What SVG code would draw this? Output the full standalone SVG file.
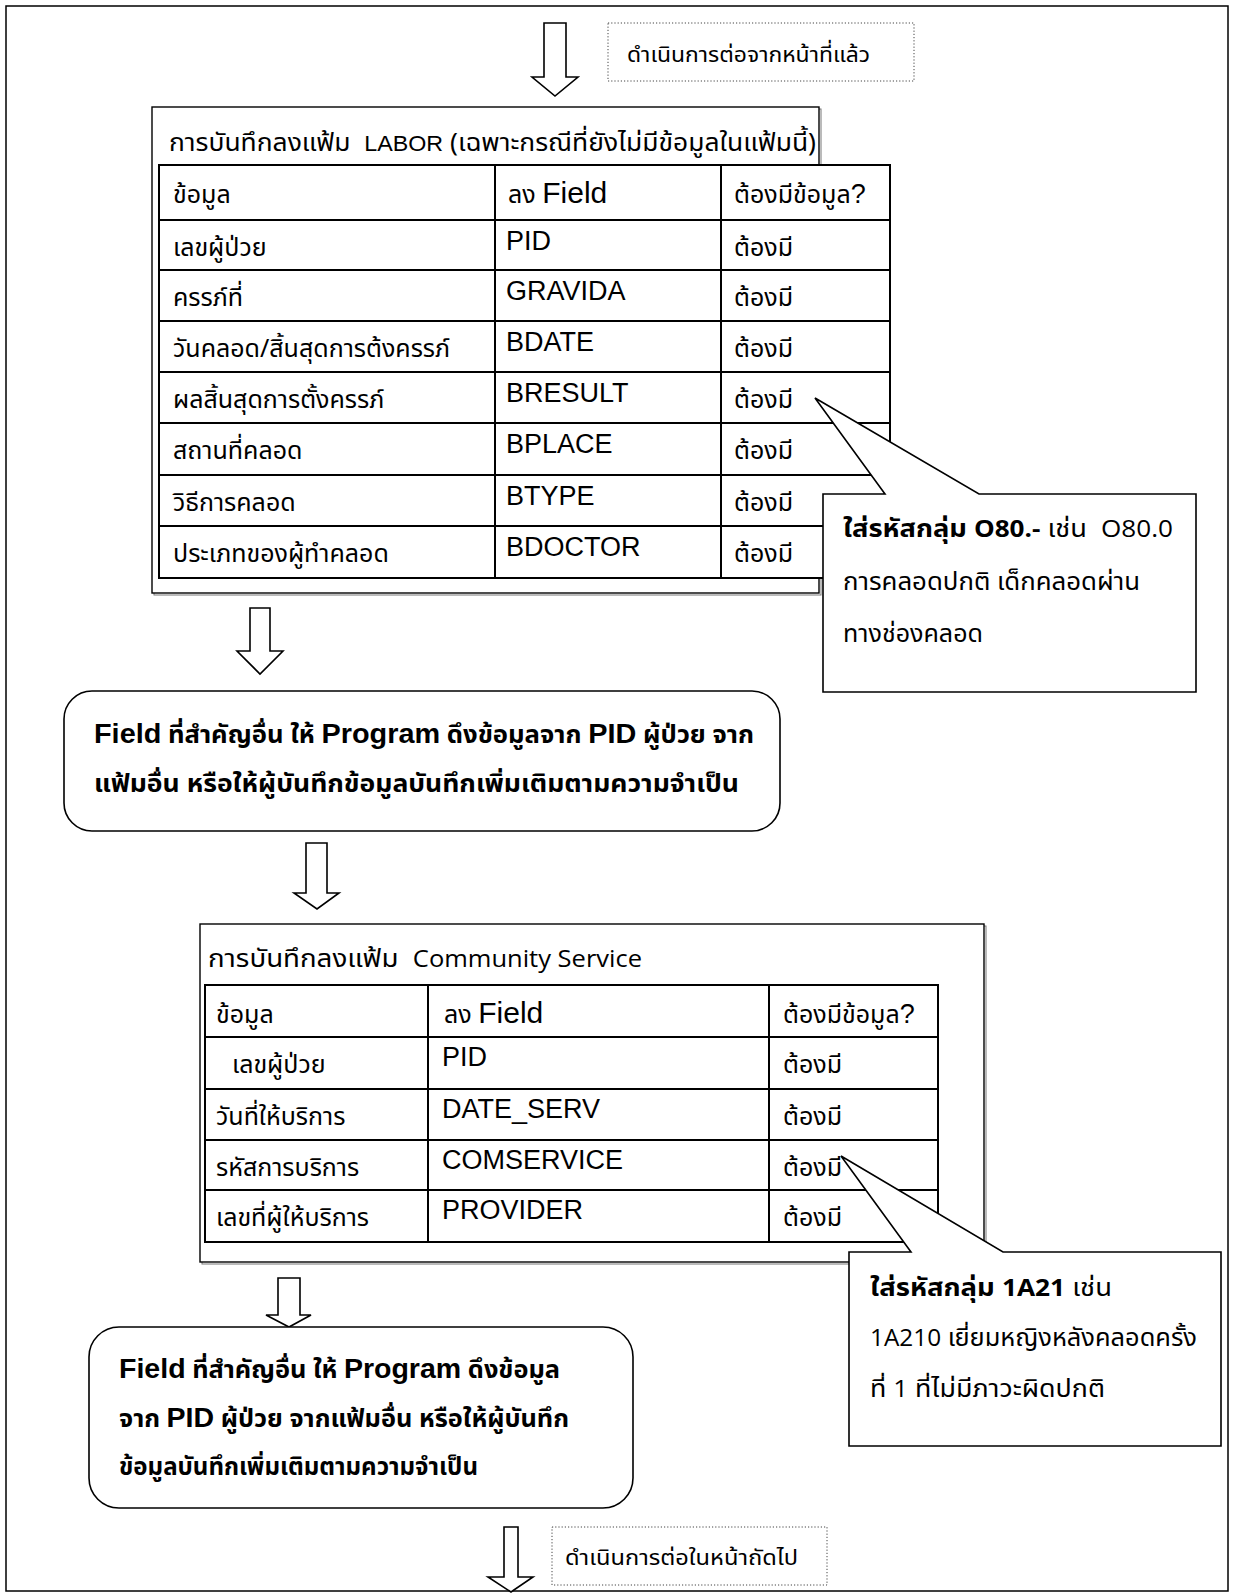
<svg xmlns="http://www.w3.org/2000/svg" width="1234" height="1594" viewBox="0 0 1234 1594">
  <style>
    .page { fill: #fff; stroke: #000; stroke-width: 1.5; }
    .frame { fill: #fff; stroke: #000; stroke-width: 1.4; }
    .shadow { fill: none; stroke: #777; stroke-width: 1; }
    .grid { fill: none; stroke: #000; stroke-width: 2; }
    .grid .tbl { fill: #fff; }
    .note { fill: #fff; stroke: #000; stroke-width: 1.6; }
    .dotted { fill: #fff; stroke: #444; stroke-width: 1; stroke-dasharray: 1.2 2; }
    .arrow { fill: #fff; stroke: #000; stroke-width: 1.6; stroke-linejoin: miter; }
    .round { fill: #fff; stroke: #000; stroke-width: 1.6; }
    .th { font-family: "Noto Sans Thai", "Noto Sans", "DejaVu Sans", sans-serif; fill: #000; }
    .cell { font-size: 25px; }
    .title { font-size: 25px; }
    .code { font-family: "Liberation Sans", Arial, sans-serif; font-size: 27px; fill: #000; }
    .en { font-family: "Liberation Sans", Arial, sans-serif; }
    .lat { font-family: "Open Sans", "Noto Sans", sans-serif; font-size: 23px; }
    .callout { font-size: 24px; }
    .boxtxt { font-size: 24px; font-weight: bold; }
    .boxen { font-family: "Liberation Sans", Arial, sans-serif; font-size: 27px; font-weight: bold; }
    .small { font-size: 22px; }
  </style>

  <!-- page border -->
  <rect class="page" x="6" y="6" width="1222" height="1585"/>

  <!-- block arrows between steps -->
  <g id="connectors">
    <polygon class="arrow" points="544,23 566,23 566,77 578,77 555,96 532,77 544,77"/>
    <polygon class="arrow" points="250,608 270,608 270,651 283,651 260,674 237,651 250,651"/>
    <polygon class="arrow" points="306,843 327,843 327,893 339,893 317,909 294,893 306,893"/>
    <polygon class="arrow" points="278,1278 300,1278 300,1315 311,1315 289,1327 266,1315 278,1315"/>
    <polygon class="arrow" points="504,1527 518,1527 518,1577 533,1577 511,1592 488,1577 504,1577"/>
  </g>

  <!-- continued-from note -->
  <g id="note-prev">
    <rect class="dotted" x="608" y="23" width="306" height="58"/>
    <text class="th small" x="627" y="62" textLength="243" lengthAdjust="spacingAndGlyphs">ดำเนินการต่อจากหน้าที่แล้ว</text>
  </g>

  <!-- LABOR file entry -->
  <g id="labor">
    <rect class="shadow" x="154" y="109" width="667" height="486"/>
    <rect class="frame" x="152" y="107" width="667" height="486"/>
    <text class="th title" x="169" y="151" textLength="647" lengthAdjust="spacingAndGlyphs" xml:space="preserve">การบันทึกลงแฟ้ม  <tspan class="en" font-size="22">LABOR</tspan> (เฉพาะกรณีที่ยังไม่มีข้อมูลในแฟ้มนี้)</text>
    <g class="grid">
      <rect class="tbl" x="159" y="165" width="731" height="413"/>
      <line x1="495" y1="165" x2="495" y2="578"/>
      <line x1="721" y1="165" x2="721" y2="578"/>
      <line x1="159" y1="220" x2="890" y2="220"/>
      <line x1="159" y1="270" x2="890" y2="270"/>
      <line x1="159" y1="321" x2="890" y2="321"/>
      <line x1="159" y1="372" x2="890" y2="372"/>
      <line x1="159" y1="423" x2="890" y2="423"/>
      <line x1="159" y1="475" x2="890" y2="475"/>
      <line x1="159" y1="526" x2="890" y2="526"/>
    </g>
    <g class="th cell">
      <text x="173" y="203">ข้อมูล</text>
      <text x="508" y="203">ลง <tspan class="en" font-size="30">Field</tspan></text>
      <text x="734" y="203">ต้องมีข้อมูล<tspan class="en" font-size="27">?</tspan></text>
      <text x="173" y="256">เลขผู้ป่วย</text>
      <text x="173" y="306">ครรภ์ที่</text>
      <text x="173" y="357">วันคลอด/สิ้นสุดการต้งครรภ์</text>
      <text x="173" y="408">ผลสิ้นสุดการตั้งครรภ์</text>
      <text x="173" y="459">สถานที่คลอด</text>
      <text x="173" y="511">วิธีการคลอด</text>
      <text x="173" y="562">ประเภทของผู้ทำคลอด</text>
      <text x="734" y="256">ต้องมี</text>
      <text x="734" y="306">ต้องมี</text>
      <text x="734" y="357">ต้องมี</text>
      <text x="734" y="408">ต้องมี</text>
      <text x="734" y="459">ต้องมี</text>
      <text x="734" y="511">ต้องมี</text>
      <text x="734" y="562">ต้องมี</text>
    </g>
    <g class="code">
      <text x="506" y="250">PID</text>
      <text x="506" y="300">GRAVIDA</text>
      <text x="506" y="351">BDATE</text>
      <text x="506" y="402">BRESULT</text>
      <text x="506" y="453">BPLACE</text>
      <text x="506" y="505">BTYPE</text>
      <text x="506" y="556">BDOCTOR</text>
    </g>
  </g>

  <!-- callout for BRESULT -->
  <g id="callout-bresult">
    <polygon class="note" points="823,494 885,494 815,398 979,494 1196,494 1196,692 823,692"/>
    <text class="th callout" x="843" y="537" textLength="330" lengthAdjust="spacingAndGlyphs" xml:space="preserve"><tspan font-weight="bold">ใส่รหัสกลุ่ม <tspan class="lat">O80.-</tspan></tspan> เช่น  <tspan class="lat">O80.0</tspan></text>
    <text class="th callout" x="843" y="590" textLength="297" lengthAdjust="spacingAndGlyphs">การคลอดปกติ เด็กคลอดผ่าน</text>
    <text class="th callout" x="843" y="642" textLength="140" lengthAdjust="spacingAndGlyphs">ทางช่องคลอด</text>
  </g>

  <!-- other fields after LABOR -->
  <g id="other-fields-1">
    <rect class="round" x="64" y="691" width="716" height="140" rx="28" ry="28"/>
    <text class="th boxtxt" x="94" y="743" textLength="660" lengthAdjust="spacingAndGlyphs"><tspan class="boxen">Field</tspan> ที่สำคัญอื่น ให้ <tspan class="boxen">Program</tspan> ดึงข้อมูลจาก <tspan class="boxen">PID</tspan> ผู้ป่วย จาก</text>
    <text class="th boxtxt" x="94" y="792" textLength="645" lengthAdjust="spacingAndGlyphs">แฟ้มอื่น หรือให้ผู้บันทึกข้อมูลบันทึกเพิ่มเติมตามความจำเป็น</text>
  </g>

  <!-- Community Service file entry -->
  <g id="community-service">
    <rect class="shadow" x="202" y="926" width="784" height="338"/>
    <rect class="frame" x="200" y="924" width="784" height="338"/>
    <text class="th title" x="208" y="967" textLength="434" lengthAdjust="spacingAndGlyphs" xml:space="preserve">การบันทึกลงแฟ้ม  <tspan class="lat" font-size="24">Community Service</tspan></text>
    <g class="grid">
      <rect class="tbl" x="205" y="985" width="733" height="257"/>
      <line x1="428" y1="985" x2="428" y2="1242"/>
      <line x1="769" y1="985" x2="769" y2="1242"/>
      <line x1="205" y1="1037" x2="938" y2="1037"/>
      <line x1="205" y1="1089" x2="938" y2="1089"/>
      <line x1="205" y1="1140" x2="938" y2="1140"/>
      <line x1="205" y1="1190" x2="938" y2="1190"/>
    </g>
    <g class="th cell">
      <text x="216" y="1023">ข้อมูล</text>
      <text x="444" y="1023">ลง <tspan class="en" font-size="30">Field</tspan></text>
      <text x="783" y="1023">ต้องมีข้อมูล<tspan class="en" font-size="27">?</tspan></text>
      <text x="232" y="1073">เลขผู้ป่วย</text>
      <text x="216" y="1125">วันที่ให้บริการ</text>
      <text x="216" y="1176">รหัสการบริการ</text>
      <text x="216" y="1226">เลขที่ผู้ให้บริการ</text>
      <text x="783" y="1073">ต้องมี</text>
      <text x="783" y="1125">ต้องมี</text>
      <text x="783" y="1176">ต้องมี</text>
      <text x="783" y="1226">ต้องมี</text>
    </g>
    <g class="code">
      <text x="442" y="1066">PID</text>
      <text x="442" y="1118">DATE_SERV</text>
      <text x="442" y="1169">COMSERVICE</text>
      <text x="442" y="1219">PROVIDER</text>
    </g>
  </g>

  <!-- callout for COMSERVICE -->
  <g id="callout-comservice">
    <polygon class="note" points="849,1252 911,1252 841,1156 1003,1252 1221,1252 1221,1446 849,1446"/>
    <text class="th callout" x="870" y="1296" textLength="242" lengthAdjust="spacingAndGlyphs"><tspan font-weight="bold">ใส่รหัสกลุ่ม <tspan class="lat">1A21</tspan></tspan> เช่น</text>
    <text class="th callout" x="870" y="1346" textLength="327" lengthAdjust="spacingAndGlyphs"><tspan class="lat">1A210</tspan> เยี่ยมหญิงหลังคลอดครั้ง</text>
    <text class="th callout" x="870" y="1397" textLength="235" lengthAdjust="spacingAndGlyphs">ที่ <tspan class="lat">1</tspan> ที่ไม่มีภาวะผิดปกติ</text>
  </g>

  <!-- other fields after Community Service -->
  <g id="other-fields-2">
    <rect class="round" x="89" y="1327" width="544" height="181" rx="30" ry="30"/>
    <text class="th boxtxt" x="119" y="1378" textLength="441" lengthAdjust="spacingAndGlyphs"><tspan class="boxen">Field</tspan> ที่สำคัญอื่น ให้ <tspan class="boxen">Program</tspan> ดึงข้อมูล</text>
    <text class="th boxtxt" x="119" y="1427" textLength="450" lengthAdjust="spacingAndGlyphs">จาก <tspan class="boxen">PID</tspan> ผู้ป่วย จากแฟ้มอื่น หรือให้ผู้บันทึก</text>
    <text class="th boxtxt" x="119" y="1475" textLength="359" lengthAdjust="spacingAndGlyphs">ข้อมูลบันทึกเพิ่มเติมตามความจำเป็น</text>
  </g>

  <!-- continued-on note -->
  <g id="note-next">
    <rect class="dotted" x="552" y="1527" width="275" height="58"/>
    <text class="th small" x="565" y="1565" textLength="233" lengthAdjust="spacingAndGlyphs">ดำเนินการต่อในหน้าถัดไป</text>
  </g>
</svg>
